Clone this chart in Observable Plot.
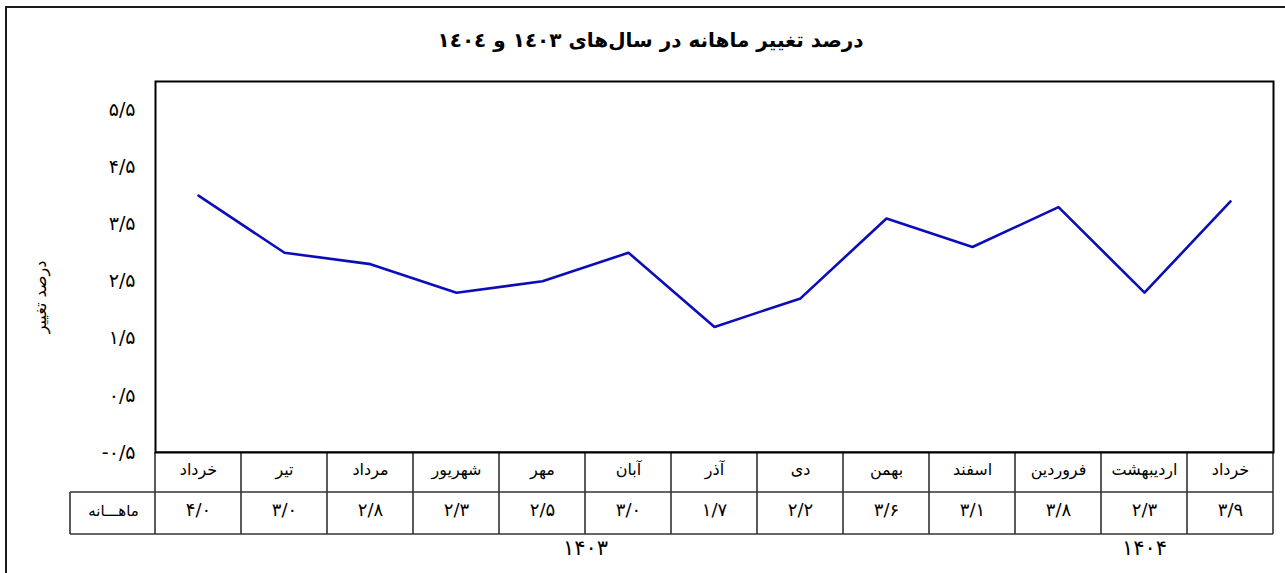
<!DOCTYPE html>
<html><head><meta charset="utf-8">
<script src="https://cdn.jsdelivr.net/npm/d3@7"></script>
<script src="https://cdn.jsdelivr.net/npm/@observablehq/plot@0.6"></script>
<style>
html,body{margin:0;padding:0;background:#fff;overflow:hidden;width:1285px;height:573px;}
#outer{position:absolute;left:5px;top:6px;width:1400px;height:700px;border-left:2px solid #1a1a1a;border-top:2.5px solid #1a1a1a;}
#title{position:absolute;left:8px;top:28px;width:1285px;text-align:center;font:bold 20px "DejaVu Sans";direction:rtl;color:#000;}
#chart{position:absolute;left:0;top:0;}
</style></head><body>
<div id="outer"></div>
<div id="title"></div>
<div id="chart"></div>
<script>
// ---- data ----
const titleText = "درصد تغییر ماهانه در سال‌های ۱٤۰۳ و ۱٤۰٤";
const yLabel = "درصد تغییر";
const rowLabel = "ماهـــانه";
const months = ["خرداد","تیر","مرداد","شهریور","مهر","آبان","آذر","دی","بهمن","اسفند","فروردین","اردیبهشت","خرداد"];
const values = [4.0, 3.0, 2.8, 2.3, 2.5, 3.0, 1.7, 2.2, 3.6, 3.1, 3.8, 2.3, 3.9];
const yearOf = [1403,1403,1403,1403,1403,1403,1403,1403,1403,1403,1404,1404,1404];
const yTicks = [-0.5, 0.5, 1.5, 2.5, 3.5, 4.5, 5.5];
const yDomain = [-0.5, 6];

// ---- helpers ----
const faDigits = s => String(s).replace(/\d/g, c => "۰۱۲۳۴۵۶۷۸۹"[c]);
const faNum = v => faDigits(v.toFixed(1).replace(".", "/"));
const idx = d3.range(months.length);
const yearGroups = d3.groups(idx, i => yearOf[i]);

document.getElementById("title").textContent = titleText;

function tableGrid(index, scales, values_, dims) {
  const x = scales.x;
  const n = months.length;
  const top = dims.height - dims.marginBottom;
  const r1 = top + 40, r2 = top + 82;
  const left = x(-0.5), right = x(n - 0.5);
  const labelLeft = left - 85;
  const g = d3.create("svg:g").attr("stroke", "#333").attr("stroke-width", 1.6).attr("fill", "none");
  const seg = (x1, y1, x2, y2) => g.append("line").attr("x1", x1).attr("y1", y1).attr("x2", x2).attr("y2", y2);
  seg(left, top, right, top);
  seg(labelLeft, r1, right, r1);
  seg(labelLeft, r2, right, r2);
  for (let i = 0; i <= n; i++) seg(x(i - 0.5), top, x(i - 0.5), r2);
  seg(labelLeft, r1, labelLeft, r2);
  return g.node();
}

const plot = Plot.plot({
  width: 1285, height: 573,
  marginLeft: 155, marginRight: 12, marginTop: 81, marginBottom: 121,
  style: {fontFamily: "DejaVu Sans", fontSize: "19px", background: "transparent", color: "#000", overflow: "visible"},
  x: {domain: [-0.5, months.length - 0.5], axis: null},
  y: {domain: yDomain, ticks: yTicks, tickFormat: v => faNum(v), tickSize: 0, tickPadding: 20, label: null},
  marks: [
    tableGrid,
    Plot.frame({stroke: "#000", strokeWidth: 2}),
    Plot.line(idx, {x: i => i, y: i => values[i], stroke: "#0c0cb8", strokeWidth: 2.6}),
    Plot.text(idx, {x: i => i, frameAnchor: "bottom", dy: 22, text: i => months[i], fontSize: 16, fill: "#000", textAnchor: "middle"}),
    Plot.text(idx, {x: i => i, frameAnchor: "bottom", dy: 63, text: i => faNum(values[i]), fontSize: 18, fill: "#000", textAnchor: "middle"}),
    Plot.text([rowLabel], {frameAnchor: "bottom-left", dx: -42, dy: 63, text: d => d, fontSize: 15, fill: "#000", textAnchor: "middle"}),
    Plot.text(yearGroups, {x: g => (g[1][0] + g[1][g[1].length - 1]) / 2, frameAnchor: "bottom", dy: 102, text: g => faDigits(g[0]), fontSize: 21, fill: "#000", textAnchor: "middle", ariaDescription: "years"}),
    Plot.text([yLabel], {frameAnchor: "left", rotate: -90, dx: -115, dy: 30, text: d => d, fontSize: 16, fill: "#000", textAnchor: "middle"})
  ]
});
d3.select(plot).selectAll('g[aria-description="years"] text').style("letter-spacing", "3px");
document.getElementById("chart").appendChild(plot);
</script>
</body></html>
